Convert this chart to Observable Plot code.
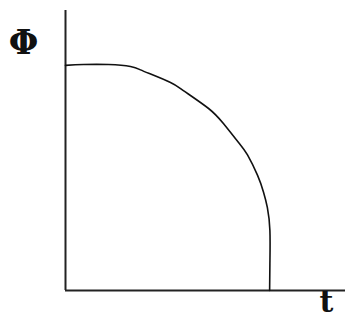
<!DOCTYPE html>
<html>
<head>
<meta charset="utf-8">
<script src="https://cdn.jsdelivr.net/npm/d3@7"></script>
<script src="https://cdn.jsdelivr.net/npm/@observablehq/plot@0.6"></script>
<style>
  html, body { margin: 0; padding: 0; background: #fff; }
</style>
</head>
<body>
<div id="chart"></div>
<script>
const tValues   = [0, 6.4, 15.4, 23.2, 26.8, 30.4, 37.5, 42.1, 51.1, 56.4, 61.8, 65.0, 68.6, 70.7, 72.1, 73.0, 73.0, 72.9];
const phiValues = [80.4, 80.7, 80.7, 80.0, 78.8, 77.3, 74.3, 71.4, 65.0, 59.6, 52.9, 48.4, 41.1, 35.2, 29.6, 21.4, 9.6, 0];
const yLabel = "Φ";
const xLabel = "t";

const data = tValues.map((t, i) => ({t, phi: phiValues[i]}));

const chart = Plot.plot({
  width: 348,
  height: 322,
  marginLeft: 65,
  marginRight: 3,
  marginTop: 10,
  marginBottom: 32,
  x: {domain: [0, 100], axis: null},
  y: {domain: [0, 100], axis: null},
  style: {background: "#fff"},
  marks: [
    Plot.ruleX([0], {stroke: "#222", strokeWidth: 2}),
    Plot.ruleY([0], {stroke: "#222", strokeWidth: 2}),
    Plot.line(data, {x: "t", y: "phi", stroke: "#111", strokeWidth: 1.6, curve: "natural"}),
    Plot.text([yLabel], {text: d => d, frameAnchor: "top-left", textAnchor: "middle", lineAnchor: "middle",
      dx: -42, dy: 33, fontSize: 34, fontWeight: "bold", fontFamily: "DejaVu Serif", fill: "#111"}),
    Plot.text([xLabel], {text: d => d, frameAnchor: "bottom-right", textAnchor: "middle", lineAnchor: "middle",
      dx: -19, dy: 12, fontSize: 30, fontWeight: "bold", fontFamily: "DejaVu Serif", fill: "#111"})
  ]
});
document.getElementById("chart").appendChild(chart);
</script>
</body>
</html>
